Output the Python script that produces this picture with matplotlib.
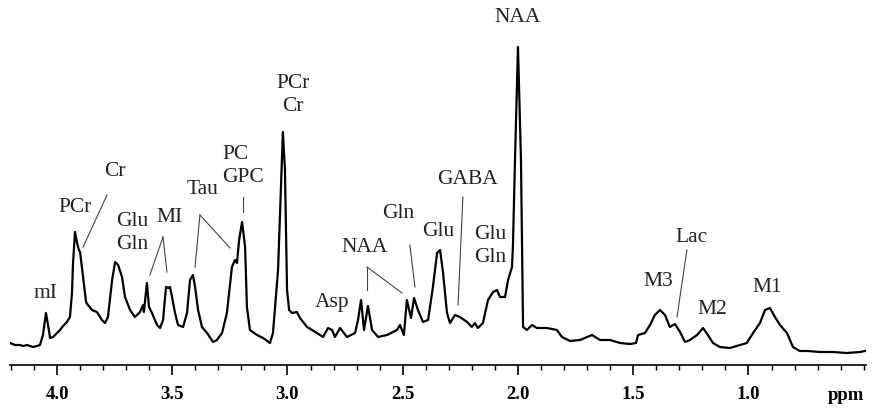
import matplotlib
matplotlib.use("Agg")
import matplotlib.pyplot as plt
from matplotlib.ticker import MultipleLocator

# spectrum: chemical shift (ppm) and intensity (a.u.)
ppm = [4.204, 4.182, 4.161, 4.147, 4.130, 4.104, 4.087, 4.074, 4.061, 4.048,
       4.039, 4.030, 4.017, 4.000, 3.987, 3.974, 3.957, 3.944, 3.935, 3.931,
       3.922, 3.913, 3.905, 3.900, 3.887, 3.874, 3.866, 3.848, 3.827, 3.805,
       3.792, 3.779, 3.761, 3.748, 3.735, 3.718, 3.705, 3.683, 3.662, 3.640,
       3.627, 3.623, 3.610, 3.601, 3.588, 3.566, 3.553, 3.540, 3.527, 3.518,
       3.510, 3.501, 3.488, 3.475, 3.453, 3.436, 3.423, 3.410, 3.401, 3.388,
       3.371, 3.349, 3.323, 3.306, 3.284, 3.263, 3.241, 3.228, 3.219, 3.210,
       3.197, 3.184, 3.176, 3.163, 3.132, 3.106, 3.076, 3.063, 3.041, 3.028,
       3.020, 3.011, 3.002, 2.993, 2.980, 2.959, 2.946, 2.915, 2.872, 2.846,
       2.824, 2.807, 2.794, 2.772, 2.742, 2.707, 2.694, 2.681, 2.668, 2.651,
       2.633, 2.607, 2.568, 2.525, 2.512, 2.495, 2.482, 2.464, 2.451, 2.434,
       2.412, 2.390, 2.369, 2.351, 2.338, 2.325, 2.308, 2.295, 2.273, 2.252,
       2.221, 2.200, 2.187, 2.174, 2.152, 2.130, 2.108, 2.091, 2.078, 2.056,
       2.043, 2.026, 2.022, 2.013, 2.000, 1.987, 1.978, 1.961, 1.939, 1.918,
       1.874, 1.831, 1.809, 1.774, 1.731, 1.679, 1.644, 1.601, 1.557, 1.514,
       1.488, 1.479, 1.449, 1.427, 1.406, 1.384, 1.362, 1.341, 1.319, 1.297,
       1.275, 1.254, 1.223, 1.197, 1.176, 1.154, 1.124, 1.081, 1.037, 1.007,
       0.980, 0.950, 0.928, 0.907, 0.885, 0.863, 0.833, 0.807, 0.777, 0.742,
       0.690, 0.633, 0.573, 0.516, 0.495]
intensity = [22, 20, 20, 19, 20, 18, 19, 20, 30, 52,
             40, 27, 28, 32, 35, 39, 43, 48, 72, 100,
             133, 122, 115, 113, 88, 63, 60, 55, 53, 45,
             42, 48, 85, 103, 100, 88, 68, 55, 48, 53,
             60, 53, 82, 58, 52, 40, 37, 45, 78, 77,
             78, 68, 52, 40, 38, 52, 85, 90, 78, 55,
             38, 32, 23, 25, 32, 52, 98, 105, 102, 125,
             143, 118, 58, 35, 30, 27, 22, 32, 95, 180,
             233, 195, 75, 55, 52, 53, 47, 38, 32, 28,
             37, 35, 28, 37, 28, 32, 45, 65, 35, 59,
             35, 28, 30, 35, 40, 30, 65, 47, 67, 55,
             43, 45, 78, 112, 115, 92, 52, 42, 50, 48,
             43, 38, 42, 37, 42, 65, 73, 75, 68, 68,
             85, 98, 118, 205, 318, 205, 38, 35, 40, 37,
             37, 35, 28, 24, 25, 30, 25, 25, 22, 21,
             22, 30, 32, 40, 50, 55, 50, 38, 41, 33,
             23, 25, 30, 37, 30, 22, 18, 17, 20, 22,
             32, 42, 55, 57, 48, 40, 32, 18, 14, 14,
             13, 13, 12, 13, 14]

# peak labels: text, ppm, height, alignment
labels = ["mI", "PCr", "Cr", "Glu\nGln", "MI", "Tau", "PC\nGPC", "PCr\nCr",
          "Asp", "NAA", "Gln", "Glu", "GABA", "Glu\nGln", "NAA",
          "M3", "Lac", "M2", "M1"]
label_ppm = [4.052, 3.922, 3.748, 3.675, 3.510, 3.367, 3.284, 2.976,
             2.807, 2.664, 2.521, 2.347, 2.221, 2.121, 2.000,
             1.393, 1.245, 1.158, 0.920]
label_h = [72, 157, 193, 132, 147, 175, 199, 270,
           62, 117, 152, 133, 185, 119, 348,
           83, 128, 55, 78]
label_ha = ["center", "center", "center", "center", "center", "center", "left", "center",
            "center", "center", "center", "center", "center", "center", "center",
            "center", "center", "center", "center"]

# pointer lines: (ppm1, h1, ppm2, h2)
pointers = [(3.783, 170, 3.887, 118),
            (3.540, 128, 3.597, 90), (3.540, 128, 3.523, 93),
            (3.380, 150, 3.401, 98), (3.380, 150, 3.249, 117),
            (3.193, 168, 3.193, 153),
            (2.655, 98, 2.655, 75), (2.655, 98, 2.503, 72),
            (2.469, 120, 2.447, 78),
            (2.239, 168, 2.260, 60),
            (1.267, 115, 1.310, 48)]

serif = ["Liberation Serif", "DejaVu Serif"]

fig = plt.figure(figsize=(8.76, 4.08), dpi=100)
ax = fig.add_axes([10 / 876, 43 / 408, 856 / 876, 330 / 408])

ax.plot(ppm, intensity, color="black", lw=1.6, solid_joinstyle="round")

for txt, x, y, ha in zip(labels, label_ppm, label_h, label_ha):
    ax.text(x, y, txt, ha=ha, va="center", fontsize=15.5, family=serif,
            color="#222222", linespacing=1.3)

for x1, y1, x2, y2 in pointers:
    ax.plot([x1, x2], [y1, y2], color="#444444", lw=0.8)

ax.set_xlim(4.204, 0.49)
ax.set_ylim(0, 330)
for s in ["top", "right", "left"]:
    ax.spines[s].set_visible(False)
ax.spines["bottom"].set_linewidth(1.2)
ax.set_yticks([])
ax.xaxis.set_minor_locator(MultipleLocator(0.1))
ax.tick_params(axis="x", which="major", direction="out", length=7, width=1.2, pad=8)
ax.tick_params(axis="x", which="minor", direction="out", length=3.5, width=1.0)
ax.set_xticks([4.0, 3.5, 3.0, 2.5, 2.0, 1.5, 1.0])
ax.set_xticklabels(["4.0", "3.5", "3.0", "2.5", "2.0", "1.5", "1.0"])
for t in ax.get_xticklabels():
    t.set_family(serif)
    t.set_fontweight("bold")
    t.set_fontsize(13.5)

fig.text(846 / 876, 1 - 395 / 408, "ppm", ha="center", va="center",
         fontsize=13.5, fontweight="bold", family=serif)

fig.savefig("out.png", dpi=100)
